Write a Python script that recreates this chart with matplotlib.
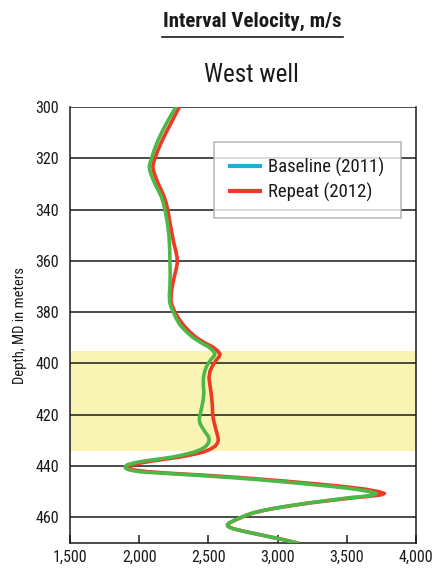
import matplotlib
matplotlib.use("Agg")
import matplotlib.pyplot as plt
from matplotlib.lines import Line2D

plt.rcParams['font.family'] = ['Roboto Condensed', 'DejaVu Sans']

# Data (depth in m, interval velocity in m/s)
base_depth = [300, 302.5, 305, 307.5, 310, 312.5, 315, 317.5, 320, 321.5, 323, 324.5, 326, 328,
              330, 332.5, 335, 337.5, 340, 345, 350, 355, 360, 365, 370, 373, 376, 378, 380,
              382.5, 385, 387.5, 390, 392, 393.5, 395, 396.2, 397.2, 398.5, 400, 401.5, 403,
              405.5, 408, 411, 413.5, 416, 418.5, 420.5, 422, 423.5, 425, 427, 428.5, 429.8,
              431, 432.3, 433.5, 434.6, 435.6, 436.5, 437.3, 438, 438.8, 439.5, 440.3, 441,
              441.6, 442.2, 442.8, 443.6, 444.4, 445.2, 446, 447, 448, 449, 450, 450.7, 451.3,
              451.9, 452.3, 453.3, 454.3, 455.3, 456.3, 457.2, 458.2, 459.2, 460.2, 461.2,
              462.2, 462.9, 463.5, 464.2, 464.8, 465.8, 466.8, 467.8, 468.7, 470]
base_vel = [2265, 2238, 2211, 2186, 2162, 2140, 2121, 2104, 2090, 2080, 2073, 2075, 2084, 2098,
            2114, 2138, 2160, 2175, 2186, 2203, 2215, 2220, 2222, 2224, 2222, 2218, 2220, 2230,
            2247, 2268, 2295, 2338, 2391, 2450, 2500, 2533, 2548, 2540, 2518, 2498, 2484, 2474,
            2464, 2463, 2467, 2464, 2456, 2446, 2437, 2434, 2440, 2455, 2480, 2500, 2506,
            2500, 2482, 2447, 2395, 2320, 2240, 2140, 2040, 1960, 1915, 1897, 1905,
            1935, 2000, 2170, 2420, 2640, 2840, 3010, 3210, 3400, 3560, 3670, 3712, 3690,
            3610, 3523, 3380, 3234, 3110, 2994, 2905, 2825, 2772, 2728, 2685,
            2648, 2636, 2640, 2665, 2704, 2785, 2873, 2960, 3041, 3140]

rep_depth = [300, 302.5, 305, 307.5, 310, 312.5, 315, 317.5, 320, 321.5, 323, 324.5, 326, 328,
             330, 332.5, 335, 337.5, 340, 345, 350, 353, 356, 358.5, 360.5, 362.5, 365, 367.5,
             370, 373, 376, 378, 380, 382.5, 385, 387.5, 390, 392, 393.5, 395, 396.3, 397.3,
             398.5, 400, 401.5, 403, 405.5, 408, 411, 413.5, 416, 419, 421.5, 424, 426.5,
             428.5, 429.8, 431, 432.3, 433.5, 434.6, 435.6, 436.5, 437.3, 438, 438.8, 439.5,
             440.3, 441, 441.6, 442.2, 442.8, 443.6, 444.4, 445.2, 446, 447, 448, 449, 450,
             450.7, 451.3, 451.9, 452.3, 453.3, 454.3, 455.3, 456.3, 457.2, 458.2, 459.2,
             460.2, 461.2, 462.2, 462.9, 463.5, 464.2, 464.8, 465.8, 466.8, 467.8, 468.7, 470]
rep_vel = [2290, 2266, 2242, 2218, 2194, 2171, 2150, 2131, 2114, 2104, 2099, 2101, 2110, 2123,
           2138, 2160, 2180, 2195, 2206, 2222, 2239, 2250, 2264, 2273, 2276, 2270, 2259, 2248,
           2239, 2230, 2230, 2242, 2259, 2285, 2319, 2362, 2415, 2475, 2530, 2565, 2584, 2578,
           2560, 2540, 2524, 2512, 2504, 2510, 2518, 2524, 2528, 2530, 2535, 2546, 2558,
           2568, 2572, 2566, 2548, 2512, 2460, 2380, 2290, 2190, 2100, 2010, 1950,
           1922, 1930, 1970, 2060, 2220, 2480, 2700, 2900, 3080, 3290, 3480, 3630, 3730,
           3772, 3740, 3640, 3560, 3400, 3245, 3115, 2998, 2908, 2828, 2775,
           2731, 2688, 2651, 2639, 2643, 2668, 2707, 2788, 2876, 2963, 3044, 3143]

band = (395.3, 434.2)
xticks = [1500, 2000, 2500, 3000, 3500, 4000]
xticklabels = ["1,500", "2,000", "2,500", "3,000", "3,500", "4,000"]
yticks = [300, 320, 340, 360, 380, 400, 420, 440, 460]
series_labels = ["Baseline (2011)", "Repeat (2012)"]

GREEN = "#4db848"
RED = "#ee3a24"
CYAN = "#1cb0d8"
YELLOW = "#faf4b4"
INK = "#1a1a1a"

fig = plt.figure(figsize=(4.4, 5.69), dpi=100)
ax = fig.add_axes([70/440, 1-543/569, (416-70)/440, (543-107)/569])

ax.axhspan(band[0], band[1], color=YELLOW, zorder=0, lw=0)
for y in yticks:
    ax.axhline(y, color=INK, lw=1.1, zorder=1)

ax.plot(rep_vel, rep_depth, color=RED, lw=2.6, zorder=3, solid_joinstyle='round')
ax.plot(base_vel, base_depth, color=GREEN, lw=2.6, zorder=4, solid_joinstyle='round')

ax.set_xlim(1500, 4000)
ax.set_ylim(470, 300)
ax.set_xticks(xticks)
ax.set_xticklabels(xticklabels)
ax.set_yticks(yticks)
ax.tick_params(axis='x', direction='in', length=6, width=1.1, labelsize=11.5, pad=5, colors=INK)
ax.tick_params(axis='y', length=0, labelsize=11.5, pad=8, colors=INK)
for s in ax.spines.values():
    s.set_color(INK)
    s.set_linewidth(1.1)
ax.spines['top'].set_visible(False)

ax.set_ylabel("Depth, MD in meters", fontsize=10.5, color=INK, labelpad=6)

handles = [Line2D([0], [0], color=CYAN, lw=3), Line2D([0], [0], color=RED, lw=3)]
leg = ax.legend(handles, series_labels, loc='upper left',
                bbox_to_anchor=((214-70)/346, 1-(142-107)/436),
                frameon=True, fancybox=False, edgecolor="#aaaaaa", fontsize=13.5,
                handlelength=1.6, handletextpad=0.45, labelspacing=0.32, borderpad=0.85,
                borderaxespad=0)
leg.get_frame().set_linewidth(1.2)
for t in leg.get_texts():
    t.set_color(INK)

fig.text(252/440, 1-21/569, "Interval Velocity, m/s", ha='center', va='center',
         fontsize=15, fontweight='bold', color=INK)
fig.add_artist(Line2D([162/440, 343/440], [1-37/569, 1-37/569], color=INK, lw=1.2))
fig.text(251/440, 1-75/569, "West well", ha='center', va='center', fontsize=18, color=INK)

fig.savefig("out.png", dpi=100)
